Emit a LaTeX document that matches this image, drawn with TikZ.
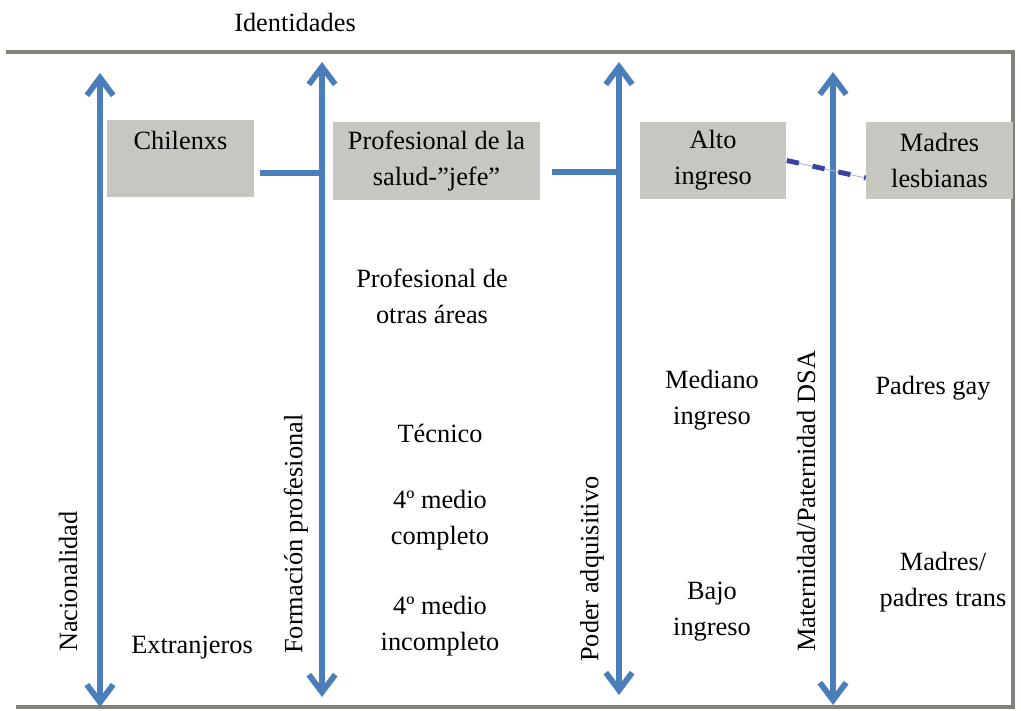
\documentclass[tikz,border=0pt]{standalone}
\usepackage{fontspec}
\setmainfont{Liberation Serif}
\usetikzlibrary{arrows.meta,positioning}

\definecolor{ejeazul}{RGB}{74,126,187}
\definecolor{cajagris}{RGB}{198,199,192}
\definecolor{marco}{RGB}{128,130,122}
\definecolor{rayas}{RGB}{58,66,168}
\definecolor{rayasfino}{RGB}{170,175,225}

\begin{document}
\begin{tikzpicture}[x=0.02cm,y=-0.02cm,
                    font=\fontsize{15}{20.5}\selectfont,
                    eje/.style={{Straight Barb[length=10pt,width=15pt]}-{Straight Barb[length=10pt,width=15pt]},
                                line width=3.3pt,draw=ejeazul},
                    enlace/.style={line width=3.3pt,draw=ejeazul},
                    rayado/.style={line width=2.8pt,draw=rayas,dash pattern=on 7pt off 8pt},
                    fino/.style={line width=0.5pt,draw=rayasfino},
                    caja/.style={fill=cajagris,minimum width=2.94cm,minimum height=1.54cm,
                                 inner sep=0pt,align=center},
                    texto/.style={align=center},
                    vertical/.style={rotate=90,anchor=west}]

  \useasboundingbox (0,0) rectangle (1021,710);

  % marco
  \draw[marco,line width=2.3pt] (6,52) -- (1013,52) -- (1013,707) -- (16,707);
  \node (titulo) at (295,22) {Identidades};

  % ejes
  \coordinate (n-top) at (100,73);  \coordinate (n-bot) at (100,707);
  \coordinate (f-top) at (322,62);  \coordinate (f-bot) at (322,697);
  \coordinate (p-top) at (619,62);  \coordinate (p-bot) at (619,695);
  \coordinate (m-top) at (833,72);  \coordinate (m-bot) at (833,705);
  \draw[eje] (n-top) -- (n-bot);
  \draw[eje] (f-top) -- (f-bot);
  \draw[eje] (p-top) -- (p-bot);
  \draw[eje] (m-top) -- (m-bot);

  \node[vertical] (nac)  at (68,658)  {Nacionalidad};
  \node[vertical] (form) at (296,660) {Formación profesional};
  \node[vertical] (poder) at (592,668) {Poder adquisitivo};
  \node[vertical] (mat)  at (806,658) {Maternidad/Paternidad DSA};

  % cajas
  \node[caja] (chile) at (180.5,158.5) {Chilenxs\\\phantom{X}};
  \node[caja,minimum width=4.14cm,minimum height=1.56cm] (salud) at (436.5,161)
       {Profesional de la\\salud-”jefe”};
  \node[caja] (alto) at (713,160.5) {Alto\\ingreso};
  \node[caja] (lesb) at (939.5,160.5) {Madres\\lesbianas};

  \coordinate (c1) at ([xshift=0.12cm,yshift=-0.29cm]chile.east);
  \coordinate (c2) at ([xshift=0.24cm,yshift=-0.22cm]salud.east);
  \draw[enlace] (c1) -- (c1 -| f-top);
  \draw[enlace] (c2) -- (c2 -| p-top);
  \draw[fino] (alto.east) -- ([yshift=-0.35cm]lesb.west);
  \draw[rayado] (alto.east) -- ([yshift=-0.35cm]lesb.west);

  % categorias
  \node[texto] (extr)  at (192,648) {Extranjeros};
  \node[texto] (otras) at (432,296) {Profesional de\\otras áreas};
  \node[texto] (tec)   at (440,433) {Técnico};
  \node[texto] (comp)  at (440,520) {4º medio\\completo};
  \node[texto] (incomp) at (440,626) {4º medio\\incompleto};
  \node[texto] (medi)  at (712,400) {Mediano\\ingreso};
  \node[texto] (bajo)  at (712,612) {Bajo\\ingreso};
  \node[texto] (gay)   at (933,388) {Padres gay};
  \node[texto] (trans) at (943,582) {Madres/\\padres trans};
\end{tikzpicture}
\end{document}
